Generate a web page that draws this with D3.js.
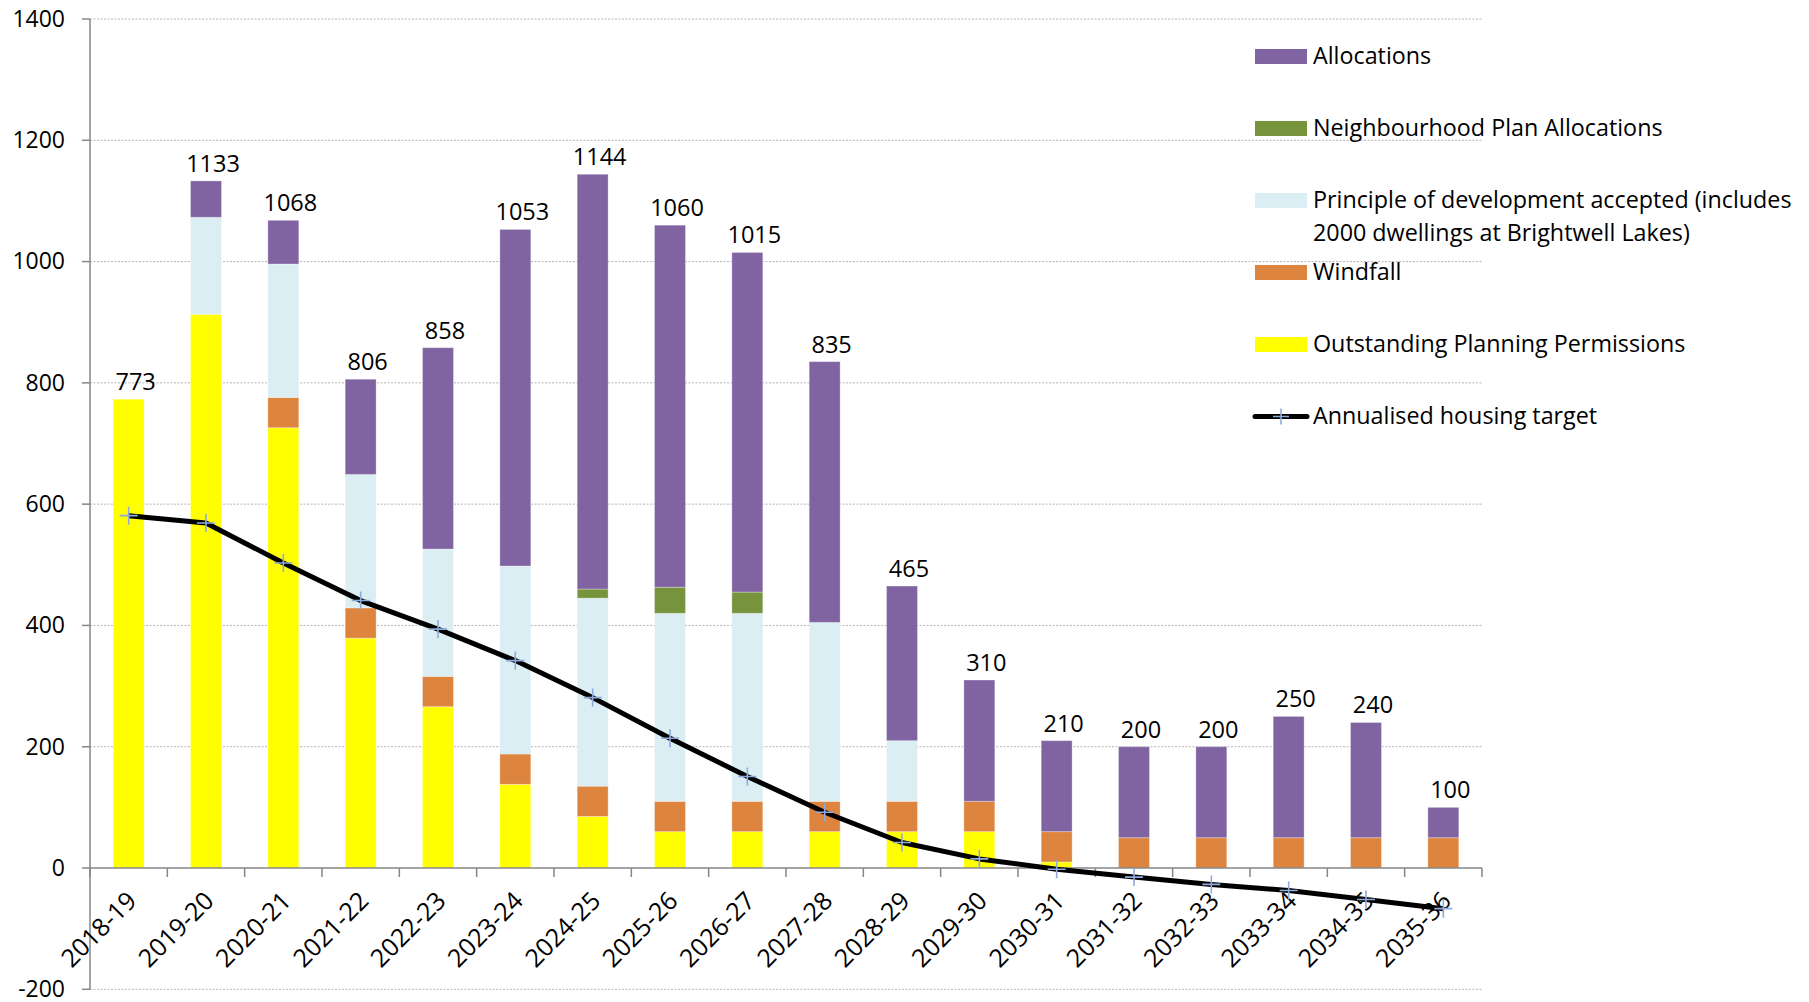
<!DOCTYPE html>
<html>
<head>
<meta charset="utf-8">
<script src="https://cdnjs.cloudflare.com/ajax/libs/d3/7.8.5/d3.min.js"></script>
<style>
  body { margin: 0; background: #fff; }
  text { font-family: "Open Sans", Lato, sans-serif; fill: #000; }
</style>
</head>
<body>
<div id="chart"></div>
<script>
// categories (financial years)
var years = ['2018-19', '2019-20', '2020-21', '2021-22', '2022-23', '2023-24', '2024-25', '2025-26', '2026-27',
  '2027-28', '2028-29', '2029-30', '2030-31', '2031-32', '2032-33', '2033-34', '2034-35', '2035-36'];

// stacked series, bottom to top
var outstanding   = [773, 913, 726, 379, 266, 138, 85, 60, 60, 60, 60, 60, 10, 0, 0, 0, 0, 0];
var windfall      = [0, 0, 50, 50, 50, 50, 50, 50, 50, 50, 50, 50, 50, 50, 50, 50, 50, 50];
var principle     = [0, 160, 220, 220, 210, 310, 310, 310, 310, 295, 100, 0, 0, 0, 0, 0, 0, 0];
var neighbourhood = [0, 0, 0, 0, 0, 0, 15, 43, 35, 0, 0, 0, 0, 0, 0, 0, 0, 0];
var allocations   = [0, 60, 72, 157, 332, 555, 684, 597, 560, 430, 255, 200, 150, 150, 150, 200, 190, 50];

// line series
var target = [581, 569, 503, 441, 394, 342, 281, 214, 151, 92, 42, 15, -2, -15, -27, -37, -52, -67];

var yTicks = [-200, 0, 200, 400, 600, 800, 1000, 1200, 1400];

var seriesKeys = ['outstanding', 'windfall', 'principle', 'neighbourhood', 'allocations'];
var seriesColor = {
  outstanding: '#FFFF00',
  windfall: '#DD843E',
  principle: '#DAEEF3',
  neighbourhood: '#77933C',
  allocations: '#8064A2'
};

// legend entries, top to bottom
var legendItems = [
  { key: 'allocations', lines: ['Allocations'] },
  { key: 'neighbourhood', lines: ['Neighbourhood Plan Allocations'] },
  { key: 'principle', lines: ['Principle of development accepted (includes', '2000 dwellings at Brightwell Lakes)'] },
  { key: 'windfall', lines: ['Windfall'] },
  { key: 'outstanding', lines: ['Outstanding Planning Permissions'] },
  { key: 'target', lines: ['Annualised housing target'] }
];

drawChart();

function drawChart() {
  var table = years.map(function(yr, i) {
    return {
      year: yr,
      outstanding: outstanding[i],
      windfall: windfall[i],
      principle: principle[i],
      neighbourhood: neighbourhood[i],
      allocations: allocations[i],
      target: target[i]
    };
  });
  table.forEach(function(d) {
    d.total = d3.sum(seriesKeys, function(k) { return d[k]; });
  });

  var width = 1809, height = 1002;
  var plotLeft = 90, plotRight = 1482, plotTop = 19, plotBottom = 989.3;
  var fontSize = 23;

  var svg = d3.select('#chart').append('svg')
    .attr('width', width)
    .attr('height', height);

  var x = d3.scaleBand()
    .domain(years)
    .range([plotLeft, plotRight])
    .paddingInner(0.6)
    .paddingOuter(0.3);

  var y = d3.scaleLinear()
    .domain([-200, 1400])
    .range([plotBottom, plotTop]);

  // gridlines
  svg.append('g')
    .selectAll('line')
    .data(yTicks.filter(function(t) { return t !== 0; }))
    .enter().append('line')
    .attr('x1', plotLeft)
    .attr('x2', plotRight)
    .attr('y1', function(d) { return y(d); })
    .attr('y2', function(d) { return y(d); })
    .style('stroke', '#b4b4b4')
    .style('stroke-width', 1)
    .style('stroke-dasharray', '2,1.5');

  // bars
  var layers = d3.stack().keys(seriesKeys)(table);

  svg.append('g')
    .selectAll('g')
    .data(layers)
    .enter().append('g')
    .style('fill', function(d) { return seriesColor[d.key]; })
    .selectAll('rect')
    .data(function(d) { return d.filter(function(s) { return s[1] > s[0]; }); })
    .enter().append('rect')
    .attr('x', function(d) { return x(d.data.year); })
    .attr('width', x.bandwidth())
    .attr('y', function(d) { return y(d[1]); })
    .attr('height', function(d) { return y(d[0]) - y(d[1]); })
    .style('stroke', '#ffffff')
    .style('stroke-opacity', 0.3)
    .style('stroke-width', 1);

  // y axis
  var yAxis = svg.append('g');
  yAxis.append('line')
    .attr('x1', plotLeft).attr('x2', plotLeft)
    .attr('y1', y(1400)).attr('y2', y(-200))
    .style('stroke', '#868686')
    .style('stroke-width', 1.5);
  yAxis.selectAll('.ytick')
    .data(yTicks)
    .enter().append('line')
    .attr('class', 'ytick')
    .attr('x1', plotLeft - 8).attr('x2', plotLeft)
    .attr('y1', function(d) { return y(d); })
    .attr('y2', function(d) { return y(d); })
    .style('stroke', '#868686')
    .style('stroke-width', 1.5);
  yAxis.selectAll('text')
    .data(yTicks)
    .enter().append('text')
    .attr('x', plotLeft - 25)
    .attr('y', function(d) { return y(d); })
    .attr('dy', '0.34em')
    .style('text-anchor', 'end')
    .style('font-size', fontSize + 'px')
    .text(function(d) { return d; });

  // x axis at zero
  var xAxis = svg.append('g');
  xAxis.append('line')
    .attr('x1', plotLeft).attr('x2', plotRight)
    .attr('y1', y(0)).attr('y2', y(0))
    .style('stroke', '#868686')
    .style('stroke-width', 1.5);
  xAxis.selectAll('.xtick')
    .data(d3.range(years.length + 1))
    .enter().append('line')
    .attr('class', 'xtick')
    .attr('x1', function(i) { return plotLeft + i * x.step(); })
    .attr('x2', function(i) { return plotLeft + i * x.step(); })
    .attr('y1', y(0))
    .attr('y2', y(0) + 9)
    .style('stroke', '#868686')
    .style('stroke-width', 1.5);
  xAxis.selectAll('text')
    .data(years)
    .enter().append('text')
    .attr('transform', function(d) {
      return 'translate(' + (x(d) + x.bandwidth() / 2 + 3) + ',' + (y(0) + 28) + ') rotate(-45)';
    })
    .attr('dy', '0.36em')
    .style('text-anchor', 'end')
    .style('font-size', '25px')
    .text(function(d) { return d; });

  // line for the annualised target
  var line = d3.line()
    .x(function(d) { return x(d.year) + x.bandwidth() / 2; })
    .y(function(d) { return y(d.target); });

  svg.append('path')
    .datum(table)
    .attr('d', line)
    .style('fill', 'none')
    .style('stroke', '#000')
    .style('stroke-width', 5)
    .style('stroke-linejoin', 'round');

  var plusPath = 'M-9,0H9M0,-9V9';
  svg.append('g')
    .selectAll('path')
    .data(table)
    .enter().append('path')
    .attr('transform', function(d) {
      return 'translate(' + (x(d.year) + x.bandwidth() / 2) + ',' + y(d.target) + ')';
    })
    .attr('d', plusPath)
    .style('stroke', '#8FAADC')
    .style('stroke-width', 1.6);

  // total labels
  svg.append('g')
    .selectAll('text')
    .data(table)
    .enter().append('text')
    .attr('x', function(d) { return x(d.year) + x.bandwidth() / 2 + 7; })
    .attr('y', function(d) { return y(d.total) - 9; })
    .style('text-anchor', 'middle')
    .style('font-size', '23.5px')
    .text(function(d) { return d.total; });

  // legend
  var legendX = 1255, legendY = 56.5, legendStep = 72;
  var legend = svg.append('g')
    .selectAll('g')
    .data(legendItems)
    .enter().append('g')
    .attr('transform', function(d, i) { return 'translate(' + legendX + ',' + (legendY + i * legendStep) + ')'; });

  legend.filter(function(d) { return d.key !== 'target'; })
    .append('rect')
    .attr('x', 0)
    .attr('y', -7.5)
    .attr('width', 52)
    .attr('height', 15)
    .style('fill', function(d) { return seriesColor[d.key]; });

  var legendLine = legend.filter(function(d) { return d.key === 'target'; });
  legendLine.append('line')
    .attr('x1', 0).attr('x2', 52)
    .attr('y1', 0).attr('y2', 0)
    .style('stroke', '#000')
    .style('stroke-width', 5)
    .style('stroke-linecap', 'round');
  legendLine.append('path')
    .attr('transform', 'translate(26,0)')
    .attr('d', 'M-8,0H8M0,-8V8')
    .style('stroke', '#8FAADC')
    .style('stroke-width', 1.6);

  legend.each(function(d) {
    var g = d3.select(this);
    d.lines.forEach(function(t, j) {
      g.append('text')
        .attr('x', 58)
        .attr('y', j * 32.6)
        .attr('dy', '0.34em')
        .style('font-size', '23.3px')
        .text(t);
    });
  });
}
</script>
</body>
</html>
